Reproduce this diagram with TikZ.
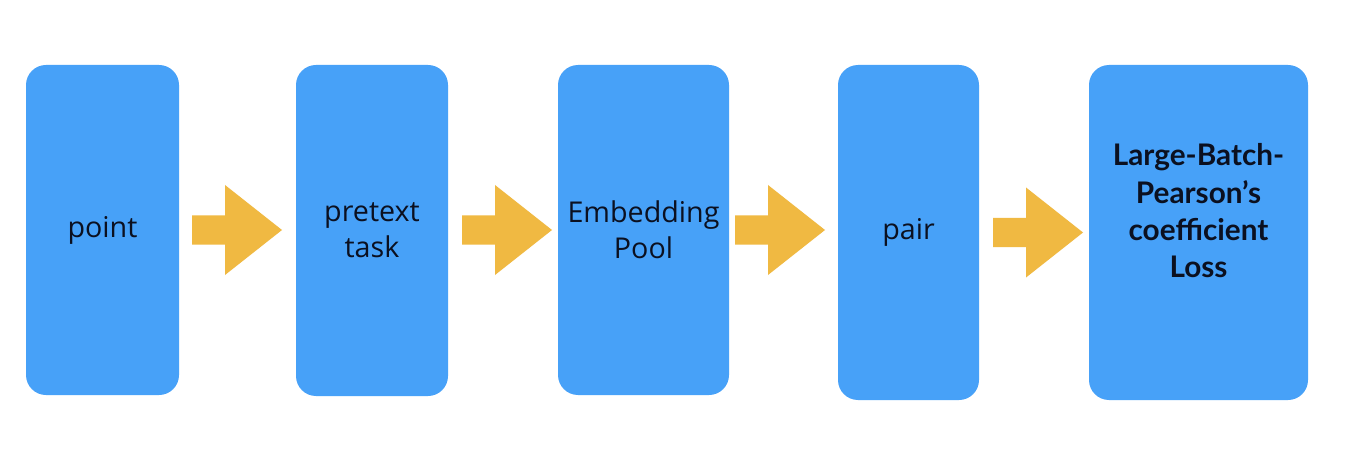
\documentclass[tikz,border=0pt]{standalone}
\usepackage{fontspec}
\setmainfont{Open Sans}
\newfontfamily\boldfam{Lato}
\usetikzlibrary{calc}
\definecolor{boxblue}{HTML}{47A1F8}
\definecolor{arrowyel}{HTML}{F0B942}
\definecolor{txt}{HTML}{0B1020}
\tikzset{
  box/.style={rectangle, rounded corners=15pt, fill=boxblue, draw=none, inner sep=0pt,
    text=txt, align=center, font=\fontsize{21.5}{27}\selectfont},
  boldtxt/.style={text=txt, align=center, inner sep=0pt, font=\boldfam\fontsize{22.3}{28}\selectfont\bfseries},
  blockarrow/.style={fill=arrowyel, draw=none}
}
\newcommand\mkarrow[2]{%
  \fill[blockarrow] let \p1=(#1), \p2=(#2) in
    (\x1,\y1+10.9pt) -- (\x2-42.75pt,\y1+10.9pt) -- (\x2-42.75pt,\y1+33.75pt) --
    (\x2,\y1) -- (\x2-42.75pt,\y1-33.75pt) -- (\x2-42.75pt,\y1-10.9pt) --
    (\x1,\y1-10.9pt) -- cycle;}
\begin{document}
\begin{tikzpicture}[x=0.75pt,y=-0.75pt]
\useasboundingbox (0,0) rectangle (1362,452);
\fill[white] (0,0) rectangle (1362,452);
\node[box, minimum width=114.75pt, minimum height=247.5pt] (b1) at (102.5,230) {point};
\node[box, minimum width=114pt, minimum height=248.25pt] (b2) at (372,230.5) {pretext\\task};
\node[box, minimum width=128.25pt, minimum height=247.5pt] (b3) at (643.5,230) {Embedding\\Pool};
\node[box, minimum width=105.75pt, minimum height=251.25pt] (b4) at (908.5,232.5) {pair};
\node[box, minimum width=164.25pt, minimum height=251.25pt] (b5) at (1198.5,232.5) {};
\node[boldtxt] (t5) at (1198.5,211) {Large-Batch-\\Pearson’s\\coefficient\\Loss};
\coordinate (a1s) at (192,230);  \coordinate (a1e) at (282,230);
\coordinate (a2s) at (462,230);  \coordinate (a2e) at (552,230);
\coordinate (a3s) at (735,230);  \coordinate (a3e) at (825,230);
\coordinate (a4s) at (993,232.5); \coordinate (a4e) at (1083,232.5);
\mkarrow{a1s}{a1e}
\mkarrow{a2s}{a2e}
\mkarrow{a3s}{a3e}
\mkarrow{a4s}{a4e}
\end{tikzpicture}
\end{document}
